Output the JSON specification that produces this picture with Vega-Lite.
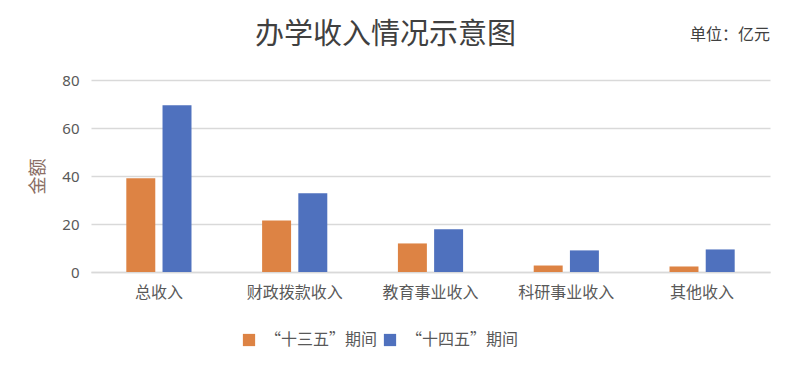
{
  "$schema": "https://vega.github.io/schema/vega-lite/v6.json",
  "width": 679,
  "height": 192,
  "autosize": "none",
  "padding": {"left": 91, "top": 80, "right": 24, "bottom": 99},
  "background": "white",
  "title": {
    "text": "办学收入情况示意图",
    "font": "Noto Sans CJK SC",
    "fontSize": 29,
    "fontWeight": "normal",
    "color": "#404040",
    "anchor": "middle",
    "frame": "group",
    "dx": -45,
    "offset": -23
  },
  "layer": [
    {
      "data": {
        "values": [
          {"category": "总收入", "period": "“十三五”期间", "value": 39.1},
          {"category": "总收入", "period": "“十四五”期间", "value": 69.5},
          {"category": "财政拨款收入", "period": "“十三五”期间", "value": 21.5},
          {"category": "财政拨款收入", "period": "“十四五”期间", "value": 32.8},
          {"category": "教育事业收入", "period": "“十三五”期间", "value": 11.9},
          {"category": "教育事业收入", "period": "“十四五”期间", "value": 17.8},
          {"category": "科研事业收入", "period": "“十三五”期间", "value": 2.7},
          {"category": "科研事业收入", "period": "“十四五”期间", "value": 9.0},
          {"category": "其他收入", "period": "“十三五”期间", "value": 2.3},
          {"category": "其他收入", "period": "“十四五”期间", "value": 9.4}
        ]
      },
      "mark": {"type": "bar"},
      "encoding": {
        "x": {
          "field": "category", "type": "nominal", "sort": null,
          "scale": {"paddingInner": 0.52, "paddingOuter": 0.26},
          "axis": {
            "title": null, "labelAngle": 0, "labelFontSize": 16, "labelColor": "#595959",
            "labelFont": "Noto Sans CJK SC", "labelPadding": 12, "ticks": false,
            "domainColor": "#d9d9d9", "domainWidth": 1.5
          }
        },
        "xOffset": {"field": "period", "type": "nominal", "scale": {"paddingInner": 0.2}},
        "y": {
          "field": "value", "type": "quantitative",
          "scale": {"domain": [0, 80]},
          "axis": {
            "title": "金额", "titleFont": "Noto Sans CJK SC", "titleFontSize": 18,
            "titleFontWeight": "normal", "titleColor": "#8a6e64", "titlePadding": 14,
            "values": [0, 20, 40, 60, 80], "labelFontSize": 15, "labelColor": "#595959",
            "labelFont": "Noto Sans", "labelPadding": 12, "ticks": false, "domain": false,
            "gridColor": "#d9d9d9", "gridWidth": 1.5
          }
        },
        "color": {
          "field": "period", "type": "nominal",
          "scale": {"domain": ["“十三五”期间", "“十四五”期间"], "range": ["#dd8344", "#4f71be"]},
          "legend": {
            "title": null, "orient": "none", "direction": "horizontal",
            "legendX": 150, "legendY": 252,
            "symbolType": "square", "symbolSize": 150, "symbolStrokeWidth": 0,
            "labelFontSize": 16, "labelColor": "#595959", "labelFont": "Noto Sans CJK SC",
            "columnPadding": 4, "labelOffset": 8
          }
        }
      }
    },
    {
      "data": {"values": [{"unit": "单位：亿元"}]},
      "mark": {"type": "text", "align": "right", "baseline": "middle", "font": "Noto Sans CJK SC", "fontSize": 16, "fontWeight": "normal", "color": "#404040"},
      "encoding": {
        "x": {"value": "width"},
        "y": {"value": -45},
        "text": {"field": "unit", "type": "nominal"}
      }
    }
  ],
  "config": {"view": {"stroke": null}}
}
